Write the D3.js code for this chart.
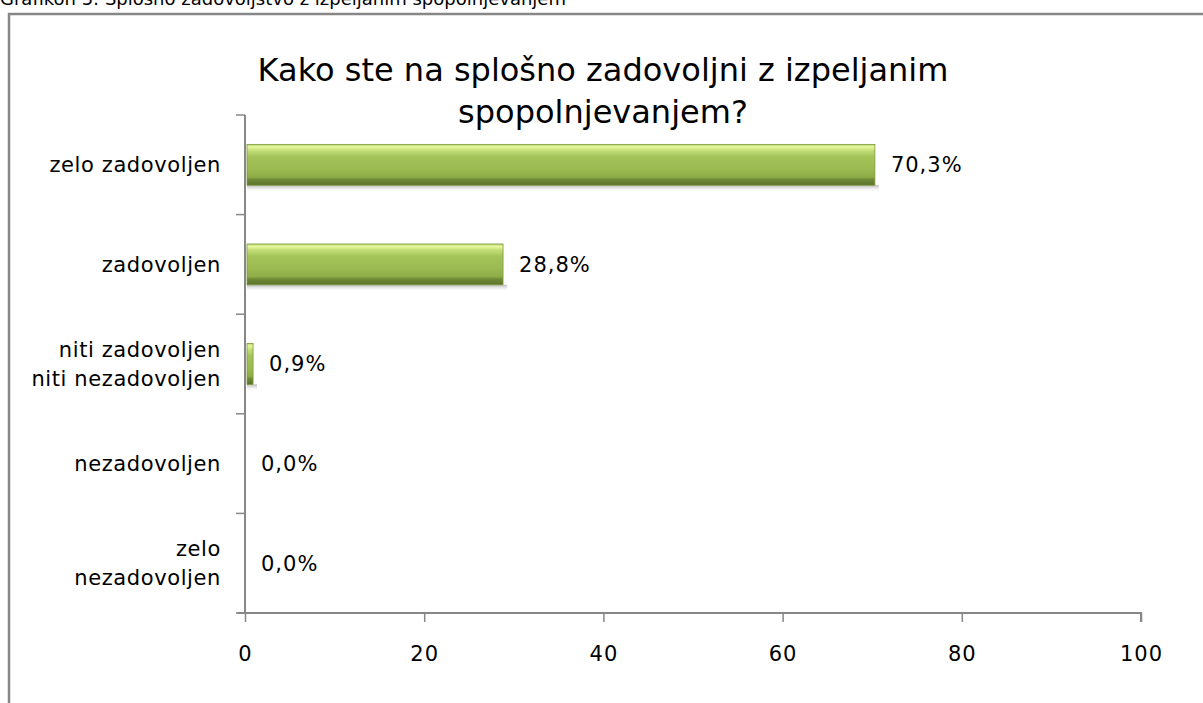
<!DOCTYPE html>
<html>
<head>
<meta charset="utf-8">
<script src="https://cdn.jsdelivr.net/npm/d3@7"></script>
<style>
  body { margin: 0; background: #fff; overflow: hidden; }
  svg { display: block; }
</style>
</head>
<body>
<div id="chart"></div>
<script>
var categories = [
    ["zelo zadovoljen"],
    ["zadovoljen"],
    ["niti zadovoljen", "niti nezadovoljen"],
    ["nezadovoljen"],
    ["zelo", "nezadovoljen"]
];
var values = [70.3, 28.8, 0.9, 0.0, 0.0];
var valueLabels = ["70,3%", "28,8%", "0,9%", "0,0%", "0,0%"];
var xTicks = [0, 20, 40, 60, 80, 100];
var titleLines = ["Kako ste na splošno zadovoljni z izpeljanim", "spopolnjevanjem?"];
var caption = "Grafikon 5: Splošno zadovoljstvo z izpeljanim spopolnjevanjem";

var W = 1203, H = 703;
var margin = { top: 115, right: 62, bottom: 90, left: 245 },
    width = 1141 - margin.left,
    height = 613 - margin.top;

var font = "DejaVu Sans, Verdana, sans-serif";

var svg = d3.select("#chart").append("svg")
    .attr("width", W)
    .attr("height", H);

var defs = svg.append("defs");
var grad = defs.append("linearGradient")
    .attr("id", "barGrad")
    .attr("x1", 0).attr("y1", 0).attr("x2", 0).attr("y2", 1);
[["0%", "#b5d36a"], ["6%", "#e8f8a0"], ["14%", "#c6e07c"], ["30%", "#a4c45a"],
 ["60%", "#9bbb52"], ["80%", "#8eac47"], ["86%", "#6f8a36"], ["100%", "#5b702c"]]
    .forEach(function(s) {
        grad.append("stop").attr("offset", s[0]).attr("stop-color", s[1]);
    });
var shadow = defs.append("linearGradient")
    .attr("id", "shadowGrad")
    .attr("x1", 0).attr("y1", 0).attr("x2", 0).attr("y2", 1);
shadow.append("stop").attr("offset", "0%").attr("stop-color", "#9a9a9a").attr("stop-opacity", 0.7);
shadow.append("stop").attr("offset", "100%").attr("stop-color", "#ffffff").attr("stop-opacity", 0);

// caption above the frame, cut off by the page top like in the original
svg.append("text")
    .attr("x", 0)
    .attr("y", 5)
    .style("font-family", font)
    .style("font-size", "18px")
    .attr("fill", "#000")
    .text(caption);

// outer frame
svg.append("path")
    .attr("d", "M9," + H + " V14 H1203")
    .attr("fill", "none")
    .attr("stroke", "#878787")
    .attr("stroke-width", 2.5);

var g = svg.append("g")
    .attr("transform", "translate(" + margin.left + "," + margin.top + ")");

var x = d3.scaleLinear().domain([0, 100]).range([0, width]);
var y = d3.scaleBand().domain(d3.range(categories.length)).range([0, height]).paddingInner(0.59).paddingOuter(0.295);

// title
svg.append("g").selectAll("text")
    .data(titleLines)
    .enter().append("text")
    .attr("x", 603)
    .attr("y", function(d, i) { return 81 + i * 42; })
    .attr("text-anchor", "middle")
    .style("font-family", font)
    .style("font-size", "32px")
    .attr("fill", "#000")
    .text(function(d) { return d; });

// bars
var bars = g.selectAll(".bar")
    .data(values)
    .enter().append("g")
    .attr("class", "bar")
    .filter(function(d) { return d > 0; });

bars.append("rect")
    .attr("x", 2)
    .attr("y", function(d, i) { return y(values.indexOf(d)) + y.bandwidth(); })
    .attr("width", function(d) { return x(d) + 2; })
    .attr("height", 7)
    .attr("fill", "url(#shadowGrad)");

bars.append("rect")
    .attr("x", 2)
    .attr("y", function(d) { return y(values.indexOf(d)); })
    .attr("width", function(d) { return Math.max(0, x(d) - 2); })
    .attr("height", y.bandwidth())
    .attr("fill", "url(#barGrad)")
    .attr("stroke", "#7d9a3c")
    .attr("stroke-width", 0.8);

// value labels
g.selectAll(".vlabel")
    .data(values)
    .enter().append("text")
    .attr("class", "vlabel")
    .attr("x", function(d) { return x(d) + 16; })
    .attr("y", function(d, i) { return y(i) + y.bandwidth() / 2; })
    .attr("dy", "0.35em")
    .style("font-family", font)
    .style("font-size", "21px")
    .style("letter-spacing", "1px")
    .attr("fill", "#000")
    .text(function(d, i) { return valueLabels[i]; });

// y axis line and ticks
var yAxis = g.append("g");
yAxis.append("line")
    .attr("x1", 0).attr("x2", 0).attr("y1", 0).attr("y2", height)
    .attr("stroke", "#878787").attr("stroke-width", 2);
yAxis.selectAll(".ytick")
    .data(d3.range(categories.length + 1))
    .enter().append("line")
    .attr("x1", -9).attr("x2", 0)
    .attr("y1", function(d) { return d * height / categories.length; })
    .attr("y2", function(d) { return d * height / categories.length; })
    .attr("stroke", "#878787").attr("stroke-width", 1.5);

// category labels
var cl = g.selectAll(".clabel")
    .data(categories)
    .enter().append("text")
    .attr("class", "clabel")
    .attr("text-anchor", "end")
    .style("font-family", font)
    .style("font-size", "21px")
    .style("letter-spacing", "0.6px")
    .attr("fill", "#000");
cl.selectAll("tspan")
    .data(function(d, i) { return d.map(function(t, j) { return { t: t, j: j, n: d.length, i: i }; }); })
    .enter().append("tspan")
    .attr("x", -24)
    .attr("y", function(d) { return y(d.i) + y.bandwidth() / 2 + (d.j - (d.n - 1) / 2) * 29; })
    .attr("dy", "0.35em")
    .text(function(d) { return d.t; });

// x axis
var xAxis = g.append("g")
    .attr("transform", "translate(0," + height + ")")
    .call(d3.axisBottom(x).tickValues(xTicks).tickSize(9).tickPadding(24).tickFormat(d3.format("d")));
xAxis.select(".domain").attr("stroke", "#878787").attr("stroke-width", 2).attr("d", "M-8,0H" + width + "V9");
xAxis.selectAll(".tick line").attr("stroke", "#878787").attr("stroke-width", 1.5);
xAxis.selectAll(".tick text")
    .style("font-family", font)
    .style("font-size", "21px")
    .style("letter-spacing", "1px")
    .attr("fill", "#000");
</script>
</body>
</html>
